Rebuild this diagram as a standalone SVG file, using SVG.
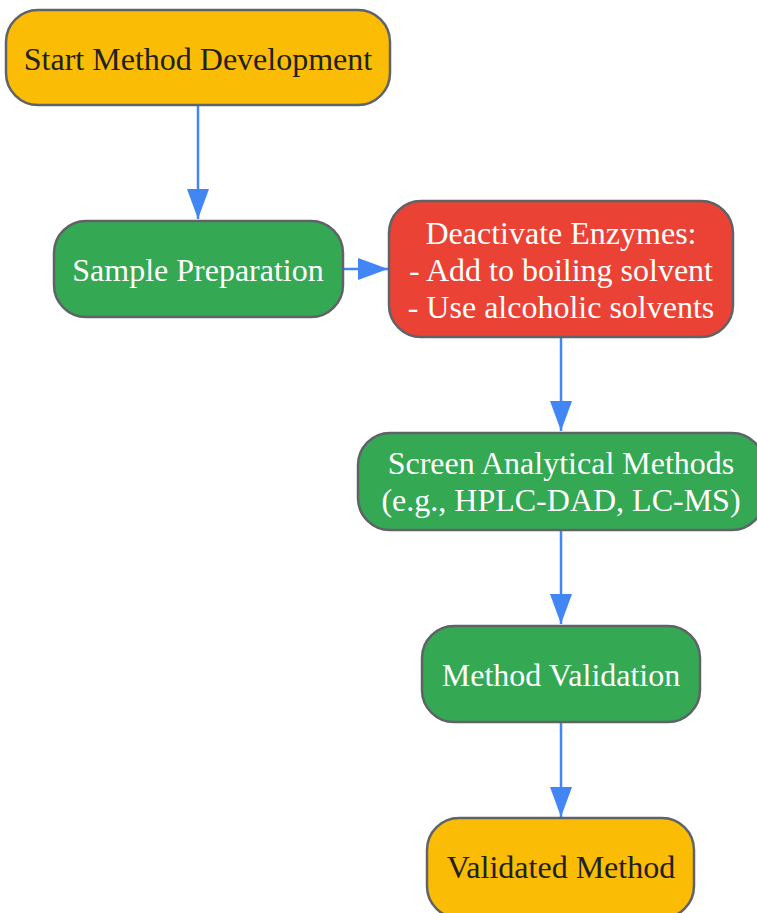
<svg xmlns="http://www.w3.org/2000/svg" width="757" height="913" viewBox="0 0 757 913">
<defs>
<style>
.n rect{stroke:#5f6368;stroke-width:2.5}
.y rect{fill:#FBBC05}
.g rect{fill:#34A853}
.r rect{fill:#EA4335}
text{font-family:"Liberation Serif","Times New Roman",serif;font-size:32px;text-anchor:middle}
.y text{fill:#202124}
.g text,.r text{fill:#ffffff}
.e line{stroke:#4285F4;stroke-width:2.5;fill:none}
</style>
<marker id="ah" viewBox="0 0 30 22" refX="30" refY="11" markerWidth="30" markerHeight="22" markerUnits="userSpaceOnUse" orient="auto">
<path d="M0,0 L30,11 L0,22 z" fill="#4285F4"/>
</marker>
</defs>
<g id="edges" class="e">
<line x1="198" y1="105" x2="198" y2="219" marker-end="url(#ah)"/>
<line x1="343" y1="269" x2="388" y2="269" marker-end="url(#ah)"/>
<line x1="561" y1="337" x2="561" y2="431" marker-end="url(#ah)"/>
<line x1="561" y1="530" x2="561" y2="624" marker-end="url(#ah)"/>
<line x1="561" y1="722" x2="561" y2="817" marker-end="url(#ah)"/>
</g>
<g id="start" class="n y"><rect x="6" y="10" width="384" height="95" rx="32"/><text x="198" y="70">Start Method Development</text></g>
<g id="prep" class="n g"><rect x="54" y="221" width="289" height="96" rx="32"/><text x="198" y="281">Sample Preparation</text></g>
<g id="deact" class="n r"><rect x="389" y="201" width="344" height="136" rx="32"/><text x="561" y="244">Deactivate Enzymes:</text><text x="561" y="281">- Add to boiling solvent</text><text x="561" y="318">- Use alcoholic solvents</text></g>
<g id="screen" class="n g"><rect x="358" y="433" width="406" height="97" rx="32"/><text x="561" y="474">Screen Analytical Methods</text><text x="561" y="511">(e.g., HPLC-DAD, LC-MS)</text></g>
<g id="valid" class="n g"><rect x="422" y="626" width="278" height="96" rx="32"/><text x="561" y="686">Method Validation</text></g>
<g id="done" class="n y"><rect x="427" y="818" width="267" height="100" rx="32"/><text x="561" y="878">Validated Method</text></g>
</svg>
